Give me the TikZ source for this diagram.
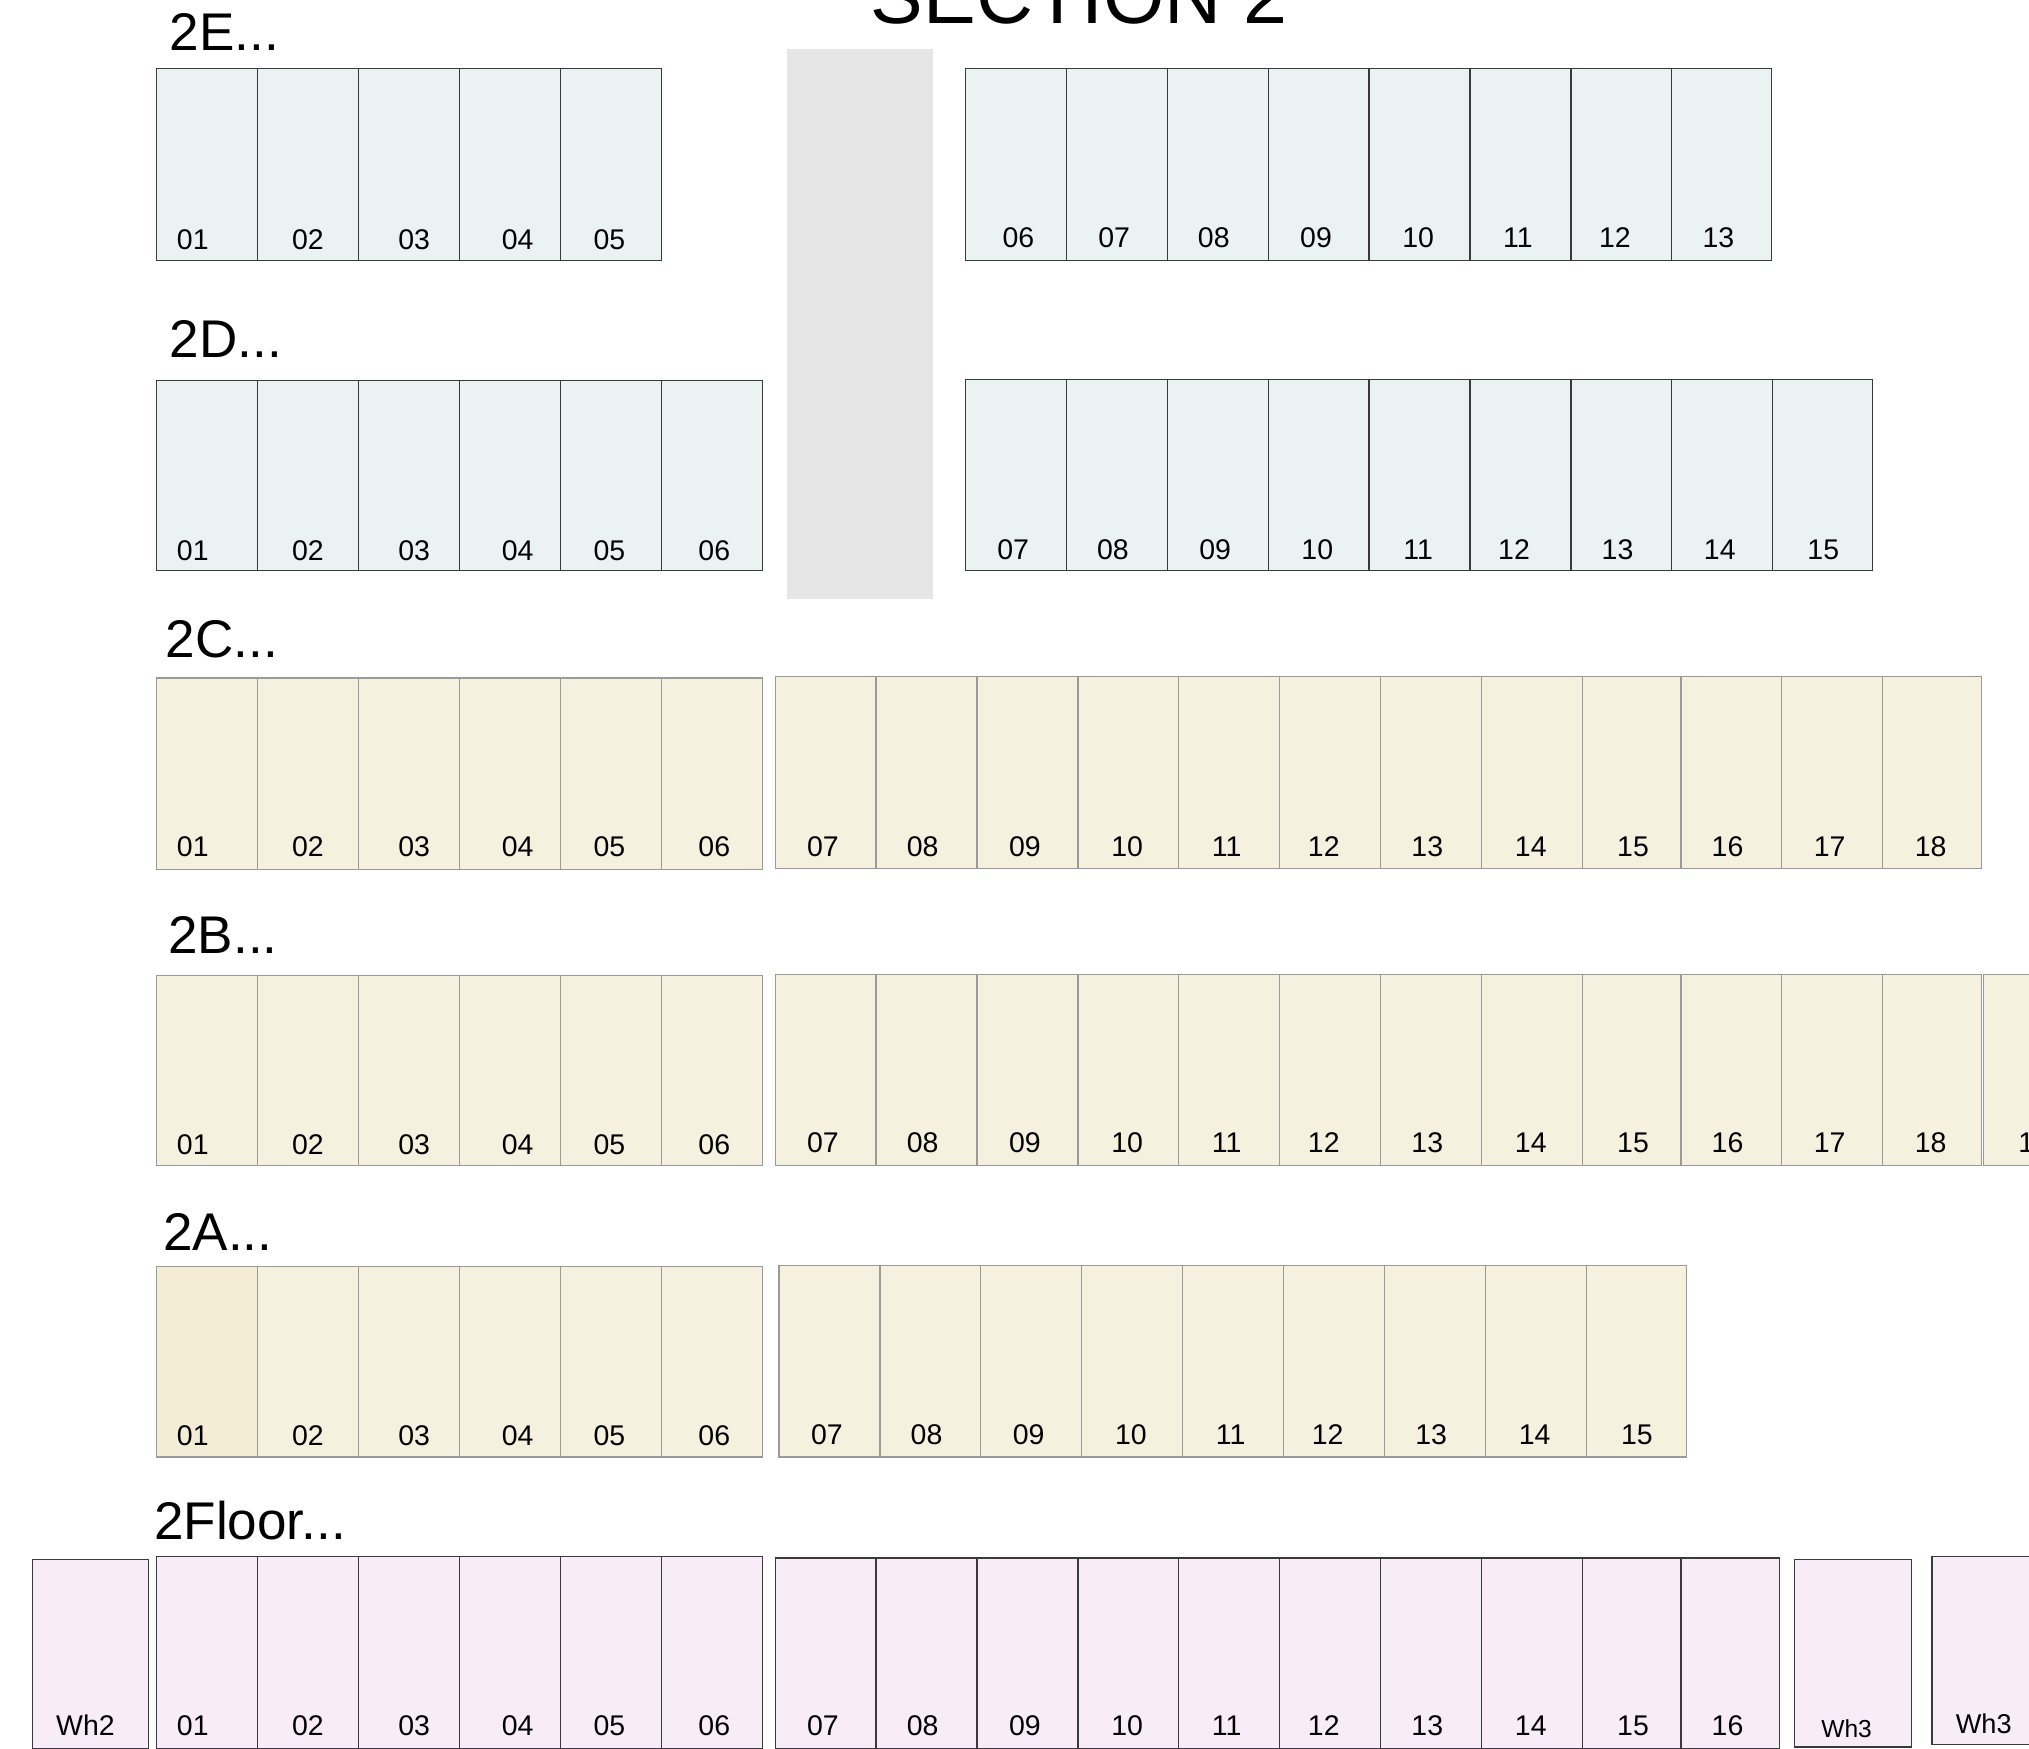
\documentclass[tikz,border=0pt]{standalone}
\usepackage{fontspec}
\setmainfont{Liberation Sans}
\definecolor{cellblue}{HTML}{EAF3F2}
\definecolor{cellcream}{HTML}{F6F1DF}
\definecolor{cellcreamdark}{HTML}{F4EDD6}
\definecolor{cellpink}{HTML}{F8ECF8}
\definecolor{pillar}{HTML}{E6E6E6}
\definecolor{borddark}{HTML}{3A3A3A}
\definecolor{bordgrey}{HTML}{9A9A9A}
\begin{document}
\begin{tikzpicture}[x=1pt,y=-1pt,
  cell/.style={draw, inner sep=0pt, outer sep=0pt, anchor=north west, line width=0.9pt, minimum height=148pt},
  bluecell/.style={cell, fill=cellblue, draw=borddark},
  creamcell/.style={cell, fill=cellcream, draw=bordgrey},
  creamdarkcell/.style={cell, fill=cellcreamdark, draw=bordgrey},
  pinkcell/.style={cell, fill=cellpink, draw=borddark},
  num/.style={anchor=base, inner sep=0pt, font=\fontsize{22}{26}\selectfont},
  rowlab/.style={anchor=base west, inner sep=0pt, font=\fontsize{41}{48}\selectfont},
  titlelab/.style={anchor=base, inner sep=0pt, font=\fontsize{61}{70}\selectfont}]
\useasboundingbox (0,0) rectangle (1568,1351);
\clip (0,0) rectangle (1568,1351);
\fill[white] (0,0) rectangle (1568,1351);

% title and pillar
\node[titlelab] (title) at (834,18) {SECTION 2};
\node[fill=pillar, inner sep=0pt, outer sep=0pt, anchor=north west, minimum width=113pt, minimum height=425pt] (pillar) at (608,38) {};

% row labels
\node[rowlab] (labE) at (131,39) {2E...};
\node[rowlab] (labD) at (131,276) {2D...};
\node[rowlab] (labC) at (128,508) {2C...};
\node[rowlab] (labB) at (130,737) {2B...};
\node[rowlab] (labA) at (126,966) {2A...};
\node[rowlab] (labF) at (119,1190) {2Floor...};

% 2E
\foreach \x/\w/\cx/\t in {121/78/149/01,199/78/238/02,277/78/320/03,355/78/400/04,433/78/471/05}{
  \node[bluecell, minimum width=\w pt, minimum height=148pt] (E\t) at (\x,53) {};
  \node[num] (E\t-n) at (\cx,193) {\t};
}
\foreach \x/\w/\cx/\t in {746/78/787/06,824/78/861/07,902/78/938/08,980/78/1017/09,1058/78/1096/10,1136/78/1173/11,1214/78/1248/12,1292/77/1328/13}{
  \node[bluecell, minimum width=\w pt, minimum height=148pt] (E\t) at (\x,53) {};
  \node[num] (E\t-n) at (\cx,191) {\t};
}

% 2D
\foreach \x/\w/\cx/\t in {121/78/149/01,199/78/238/02,277/78/320/03,355/78/400/04,433/78/471/05,511/78/552/06}{
  \node[bluecell, minimum width=\w pt, minimum height=147pt] (D\t) at (\x,294) {};
  \node[num] (D\t-n) at (\cx,433) {\t};
}
\foreach \x/\w/\cx/\t in {746/78/783/07,824/78/860/08,902/78/939/09,980/78/1018/10,1058/78/1096/11,1136/78/1170/12,1214/78/1250/13,1292/78/1329/14,1370/77/1409/15}{
  \node[bluecell, minimum width=\w pt, minimum height=148pt] (D\t) at (\x,293) {};
  \node[num] (D\t-n) at (\cx,432) {\t};
}

% 2C
\foreach \x/\w/\cx/\t in {121/78/149/01,199/78/238/02,277/78/320/03,355/78/400/04,433/78/471/05,511/78/552/06}{
  \node[creamcell, minimum width=\w pt, minimum height=148pt] (C\t) at (\x,524) {};
  \node[num] (C\t-n) at (\cx,662) {\t};
}
\foreach \x/\w/\cx/\t in {599/78/636/07,677/78/713/08,755/78/792/09,833/78/871/10,911/78/948/11,989/78/1023/12,1067/78/1103/13,1145/78/1183/14,1223/76/1262/15,1299/78/1335/16,1377/78/1414/17,1455/76/1492/18}{
  \node[creamcell, minimum width=\w pt, minimum height=148pt] (C\t) at (\x,523) {};
  \node[num] (C\t-n) at (\cx,662) {\t};
}

% 2B
\foreach \x/\w/\cx/\t in {121/78/149/01,199/78/238/02,277/78/320/03,355/78/400/04,433/78/471/05,511/78/552/06}{
  \node[creamcell, minimum width=\w pt, minimum height=147pt] (B\t) at (\x,754) {};
  \node[num] (B\t-n) at (\cx,892) {\t};
}
\foreach \x/\w/\cx/\t in {599/78/636/07,677/78/713/08,755/78/792/09,833/78/871/10,911/78/948/11,989/78/1023/12,1067/78/1103/13,1145/78/1183/14,1223/76/1262/15,1299/78/1335/16,1377/78/1414/17,1455/76/1492/18,1533/78/1572/19}{
  \node[creamcell, minimum width=\w pt, minimum height=148pt] (B\t) at (\x,753) {};
  \node[num] (B\t-n) at (\cx,891) {\t};
}

% 2A
\node[creamdarkcell, minimum width=78pt, minimum height=147pt] (A01) at (121,979) {};
\node[num] (A01-n) at (149,1117) {01};
\foreach \x/\w/\cx/\t in {199/78/238/02,277/78/320/03,355/78/400/04,433/78/471/05,511/78/552/06}{
  \node[creamcell, minimum width=\w pt, minimum height=147pt] (A\t) at (\x,979) {};
  \node[num] (A\t-n) at (\cx,1117) {\t};
}
\foreach \x/\w/\cx/\t in {602/78/639/07,680/78/716/08,758/78/795/09,836/78/874/10,914/78/951/11,992/78/1026/12,1070/78/1106/13,1148/78/1186/14,1226/77/1265/15}{
  \node[creamcell, minimum width=\w pt, minimum height=148pt] (A\t) at (\x,978) {};
  \node[num] (A\t-n) at (\cx,1116) {\t};
}

% 2Floor
\node[pinkcell, minimum width=90pt, minimum height=146pt] (Wh2) at (25,1205) {};
\node[num] (Wh2-n) at (66,1341) {Wh2};
\foreach \x/\w/\cx/\t in {121/78/149/01,199/78/238/02,277/78/320/03,355/78/400/04,433/78/471/05,511/78/552/06}{
  \node[pinkcell, minimum width=\w pt, minimum height=148pt] (F\t) at (\x,1203) {};
  \node[num] (F\t-n) at (\cx,1341) {\t};
}
\foreach \x/\w/\cx/\t in {599/78/636/07,677/78/713/08,755/78/792/09,833/78/871/10,911/78/948/11,989/78/1023/12,1067/78/1103/13,1145/78/1183/14,1223/76/1262/15,1299/76/1335/16}{
  \node[pinkcell, minimum width=\w pt, minimum height=147pt] (F\t) at (\x,1204) {};
  \node[num] (F\t-n) at (\cx,1341) {\t};
}
\node[pinkcell, minimum width=90pt, minimum height=145pt] (Wh3a) at (1387,1205) {};
\node[num, font=\fontsize{19}{22}\selectfont] (Wh3a-n) at (1427,1343) {Wh3};
\node[pinkcell, minimum width=90pt, minimum height=145pt] (Wh3b) at (1493,1203) {};
\node[num, font=\fontsize{21}{24}\selectfont] (Wh3b-n) at (1533,1340) {Wh3};
\end{tikzpicture}
\end{document}
